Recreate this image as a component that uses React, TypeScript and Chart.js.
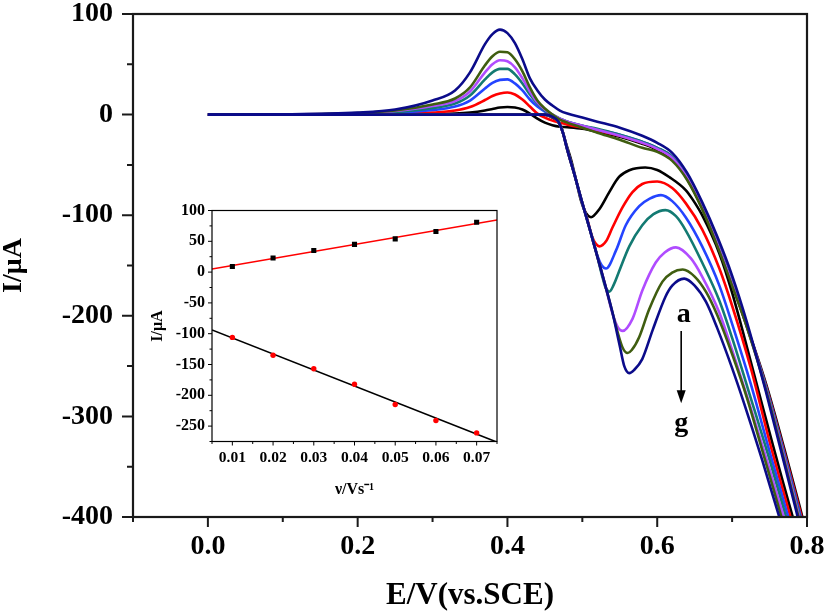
import React, { useEffect, useRef } from 'react';
import { Chart, registerables } from 'chart.js';

Chart.register(...registerables);

// ---------------- main chart data (E in V, I in µA) ----------------
const SERIES_NAMES = ['a', 'b', 'c', 'd', 'e', 'f', 'g'];
const SERIES_COLORS = ['#000000', '#ff0000', '#2444ff', '#137a72', '#b04cff', '#3f5d10', '#0b0b8a'];

// forward sweep potentials (shared)
const E_FWD = [0.00, 0.10, 0.20, 0.25, 0.30, 0.33, 0.35, 0.37, 0.38, 0.39, 0.40, 0.41, 0.42, 0.43, 0.44, 0.45, 0.46, 0.47, 0.48, 0.50, 0.52, 0.55, 0.58, 0.60, 0.62, 0.64, 0.66, 0.68, 0.70, 0.72, 0.745, 0.77, 0.79, 0.81];

const I_FWD_A = [0, 0, 0, 0, 0.5, 1, 2, 4, 5.5, 7, 7.5, 7, 5, 1, -4, -8, -10.5, -12, -12.5, -14, -17, -22, -29, -35, -44, -64, -93, -129, -169, -211, -267, -333, -389, -447];
const I_FWD_B = [0, 0, 0.3, 0.8, 2, 4, 7.5, 14.5, 18.5, 21, 22, 20, 15, 8, 1, -3, -6, -8, -10, -13, -16, -21, -28, -34, -43, -63, -92, -128, -168, -211, -269, -336, -392, -450];
const I_FWD_C = [0, 0.1, 0.7, 1.8, 4.5, 8, 14, 26, 31.5, 34.5, 35, 31, 24, 15, 8, 3, -1, -4, -7, -11, -15, -20, -27, -33, -42, -62, -91, -127, -167, -211, -270, -338, -395, -453];
const I_FWD_D = [0, 0.1, 1, 2.5, 6.5, 11, 19, 35, 42, 45.5, 45.5, 40, 31, 20, 11, 4, 0, -4, -7, -11, -14, -20, -27, -33, -42, -62, -91, -127, -167, -211, -271, -340, -398, -456];
const I_FWD_E = [0, 0.2, 1.2, 3.5, 8.5, 13.5, 23, 42, 50, 54, 53, 47, 36, 23, 12, 5, 0, -4, -7, -11, -15, -21, -28, -34, -43, -63, -92, -128, -168, -211, -272, -342, -401, -459];
const I_FWD_F = [0, 0.2, 1.5, 4, 10, 16, 27, 49, 58, 62.5, 62, 55, 43, 27, 14, 6, 0, -5, -8, -13, -18, -25, -33, -37, -46, -65, -94, -130, -170, -212, -273, -345, -404, -462];
const I_FWD_G = [0, 0.3, 2, 5, 14, 24, 42, 70, 80, 84.5, 81, 71, 55, 36, 24, 15, 9, 4, 1, -3, -7, -13, -21, -28, -38, -58, -87, -121, -160, -207, -275, -348, -407, -466];

// reverse sweep (potential decreasing)
const E_REV_A = [0.80, 0.79, 0.781, 0.755, 0.73, 0.70, 0.683, 0.66, 0.647, 0.638, 0.616, 0.60, 0.584, 0.5627, 0.549, 0.536, 0.5227, 0.5116, 0.505, 0.498, 0.4916, 0.485, 0.478, 0.471, 0.46, 0.45, 0.40, 0.30, 0.20, 0.0];
const I_REV_A = [-448, -422, -400, -330, -260, -177, -138, -100, -84, -75, -62, -55, -52.6, -55.3, -62, -77, -94, -102, -98, -85, -65, -45, -28, -11, -3, 0, 0, 0, 0, 0];

const E_REV_B = [0.80, 0.79, 0.778, 0.75, 0.725, 0.70, 0.683, 0.66, 0.638, 0.62, 0.60, 0.58, 0.567, 0.5538, 0.5404, 0.5316, 0.5227, 0.5175, 0.513, 0.507, 0.50, 0.49, 0.48, 0.474, 0.468, 0.46, 0.45, 0.40, 0.30, 0.20, 0.0];
const I_REV_B = [-460, -432, -400, -325, -252, -190, -153, -114, -88, -73, -66.5, -69, -77, -92, -112, -126, -131, -128, -121, -105, -88, -61, -35, -18, -7, -2, 0, 0, 0, 0, 0];

const E_REV_C = [0.80, 0.787, 0.775, 0.75, 0.725, 0.70, 0.683, 0.66, 0.638, 0.62, 0.605, 0.59, 0.576, 0.558, 0.545, 0.5316, 0.526, 0.52, 0.51, 0.50, 0.49, 0.48, 0.474, 0.468, 0.46, 0.45, 0.40, 0.30, 0.20, 0.0];
const I_REV_C = [-465, -432, -400, -335, -268, -208, -170, -131, -102, -86, -80, -83.5, -91, -110, -135, -153, -150, -140, -114, -88, -61, -35, -18, -7, -2, 0, 0, 0, 0, 0];

const E_REV_D = [0.80, 0.785, 0.772, 0.75, 0.725, 0.70, 0.683, 0.66, 0.638, 0.625, 0.611, 0.595, 0.58, 0.5627, 0.549, 0.542, 0.536, 0.531, 0.526, 0.52, 0.51, 0.50, 0.49, 0.48, 0.474, 0.468, 0.46, 0.45, 0.40, 0.30, 0.20, 0.0];
const I_REV_D = [-470, -432, -400, -343, -282, -222, -185, -147, -115, -101, -95, -99, -110, -131, -156, -169, -176, -172, -159, -141, -114, -88, -61, -35, -18, -7, -2, 0, 0, 0, 0, 0];

const E_REV_E = [0.80, 0.78, 0.769, 0.745, 0.72, 0.70, 0.683, 0.66, 0.645, 0.625, 0.61, 0.598, 0.58, 0.567, 0.5538, 0.548, 0.54, 0.53, 0.52, 0.51, 0.50, 0.49, 0.48, 0.474, 0.468, 0.46, 0.45, 0.40, 0.30, 0.20, 0.0];
const I_REV_E = [-475, -427, -400, -340, -280, -234, -197, -161, -143, -132, -137, -147, -175, -203, -215, -212, -197, -168, -141, -114, -88, -61, -35, -18, -7, -2, 0, 0, 0, 0, 0];

const E_REV_F = [0.80, 0.78, 0.766, 0.74, 0.72, 0.70, 0.68, 0.665, 0.65, 0.634, 0.62, 0.607, 0.589, 0.576, 0.566, 0.5604, 0.554, 0.547, 0.54, 0.53, 0.52, 0.51, 0.50, 0.49, 0.48, 0.474, 0.468, 0.46, 0.45, 0.40, 0.30, 0.20, 0.0];
const I_REV_F = [-485, -435, -400, -333, -282, -238, -199, -176, -161, -154, -157, -166, -194, -221, -234, -237, -232, -216, -196, -168, -141, -114, -88, -61, -35, -18, -7, -2, 0, 0, 0, 0, 0];

const E_REV_G = [0.80, 0.78, 0.763, 0.74, 0.716, 0.70, 0.68, 0.665, 0.65, 0.636, 0.62, 0.611, 0.594, 0.58, 0.569, 0.5627, 0.556, 0.55, 0.54, 0.53, 0.52, 0.51, 0.50, 0.49, 0.48, 0.474, 0.468, 0.46, 0.45, 0.40, 0.30, 0.20, 0.0];
const I_REV_G = [-490, -440, -400, -343, -287, -252, -212, -186, -170, -163, -170, -181, -214, -243, -254, -257, -250, -230, -196, -168, -141, -114, -88, -61, -35, -18, -7, -2, 0, 0, 0, 0, 0];

const I_FWD = [I_FWD_A, I_FWD_B, I_FWD_C, I_FWD_D, I_FWD_E, I_FWD_F, I_FWD_G];
const E_REV = [E_REV_A, E_REV_B, E_REV_C, E_REV_D, E_REV_E, E_REV_F, E_REV_G];
const I_REV = [I_REV_A, I_REV_B, I_REV_C, I_REV_D, I_REV_E, I_REV_F, I_REV_G];

// ---------------- inset data ----------------
const SCAN_RATE = [0.01, 0.02, 0.03, 0.04, 0.05, 0.06, 0.07];
const I_ANODIC = [9, 23, 35, 45, 54, 66, 81];
const I_CATHODIC = [-106, -135, -157, -182, -215, -241, -261];
const FIT_RATE = [0.005, 0.075];
const FIT_ANODIC = [5, 84.5];
const FIT_CATHODIC = [-94, -276];

// annotation (data coordinates)
const ANNOT_TOP = { text: 'a', x: 0.6355, y: -206 };
const ANNOT_BOTTOM = { text: 'g', x: 0.632, y: -315 };
const ANNOT_ARROW = { x: 0.632, from: -215, to: -287 };

const SERIF = "'Liberation Serif', 'Times New Roman', serif";

function zip(xs: number[], ys: number[]) {
  return xs.map((x, i) => ({ x, y: ys[i] }));
}

function framePlugin(opts: {
  lw: number; tickLw: number; color: string;
  xMajor: number; xMinor: number; yMajor: number; yMinor: number;
  isMajorX: (v: number) => boolean; isMajorY: (v: number) => boolean;
}) {
  return {
    id: 'frameTicks',
    afterDraw(chart: any) {
      const { ctx, chartArea: a, scales } = chart;
      const xs = scales.x;
      const ys = scales.y;
      ctx.save();
      ctx.strokeStyle = opts.color;
      ctx.lineWidth = opts.tickLw;
      ctx.beginPath();
      for (const t of xs.ticks) {
        const px = xs.getPixelForValue(t.value);
        const len = opts.isMajorX(t.value) ? opts.xMajor : opts.xMinor;
        ctx.moveTo(px, a.bottom);
        ctx.lineTo(px, a.bottom + len);
      }
      for (const t of ys.ticks) {
        const py = ys.getPixelForValue(t.value);
        const len = opts.isMajorY(t.value) ? opts.yMajor : opts.yMinor;
        ctx.moveTo(a.left, py);
        ctx.lineTo(a.left - len, py);
      }
      ctx.stroke();
      ctx.lineWidth = opts.lw;
      ctx.strokeRect(a.left, a.top, a.right - a.left, a.bottom - a.top);
      ctx.restore();
    },
  };
}

const annotPlugin = {
  id: 'annot',
  afterDatasetsDraw(chart: any) {
    const { ctx, scales } = chart;
    const xs = scales.x;
    const ys = scales.y;
    ctx.save();
    ctx.fillStyle = '#000';
    ctx.strokeStyle = '#000';
    ctx.font = `bold 28px ${SERIF}`;
    ctx.textAlign = 'center';
    ctx.textBaseline = 'alphabetic';
    ctx.fillText(ANNOT_TOP.text, xs.getPixelForValue(ANNOT_TOP.x), ys.getPixelForValue(ANNOT_TOP.y));
    ctx.fillText(ANNOT_BOTTOM.text, xs.getPixelForValue(ANNOT_BOTTOM.x), ys.getPixelForValue(ANNOT_BOTTOM.y));
    const ax = xs.getPixelForValue(ANNOT_ARROW.x);
    const y1 = ys.getPixelForValue(ANNOT_ARROW.from);
    const y2 = ys.getPixelForValue(ANNOT_ARROW.to);
    ctx.lineWidth = 1.6;
    ctx.beginPath();
    ctx.moveTo(ax, y1);
    ctx.lineTo(ax, y2 - 10);
    ctx.stroke();
    ctx.beginPath();
    ctx.moveTo(ax, y2);
    ctx.lineTo(ax - 4.5, y2 - 13);
    ctx.lineTo(ax + 4.5, y2 - 13);
    ctx.closePath();
    ctx.fill();
    ctx.restore();
  },
};

function curveDataset(label: string, color: string, data: { x: number; y: number }[], order: number) {
  return {
    label,
    data,
    showLine: true,
    borderColor: color,
    backgroundColor: color,
    borderWidth: 2.6,
    pointRadius: 0,
    pointHoverRadius: 0,
    cubicInterpolationMode: 'monotone',
    fill: false,
    order,
  };
}

function mainConfig(): any {
  const datasets: any[] = [];
  SERIES_NAMES.forEach((name, k) => {
    const order = SERIES_NAMES.length - 1 - k;
    datasets.push(curveDataset(name, SERIES_COLORS[k], zip(E_FWD, I_FWD[k]), order));
    datasets.push(curveDataset(name + ' (reverse)', SERIES_COLORS[k], zip(E_REV[k], I_REV[k]), order));
  });
  const tickFont = { family: SERIF, size: 28, weight: 'bold', lineHeight: 1 };
  return {
    type: 'scatter',
    data: { datasets },
    options: {
      animation: false,
      responsive: false,
      events: [],
      layout: { padding: { left: 0, top: 14, right: 20, bottom: 0 } },
      elements: { line: { capBezierPoints: false } },
      plugins: { legend: { display: false }, tooltip: { enabled: false } },
      scales: {
        x: {
          type: 'linear',
          min: -0.1,
          max: 0.8,
          afterFit: (s: any) => { s.height = 99; s.paddingLeft = 0; s.paddingRight = 0; },
          grid: { display: false, drawTicks: false },
          border: { display: false },
          ticks: {
            stepSize: 0.1,
            maxTicksLimit: 100,
            autoSkip: false,
            maxRotation: 0,
            minRotation: 0,
            padding: 16,
            color: '#000',
            font: tickFont,
            callback: (v: number) => (Math.round(v * 10) % 2 === 0 ? v.toFixed(1) : ''),
          },
          title: {
            display: true,
            text: 'E/V(vs.SCE)',
            color: '#000',
            font: { family: SERIF, size: 31, weight: 'bold', lineHeight: 1 },
            padding: { top: 0, bottom: 4.5 },
          },
        },
        y: {
          type: 'linear',
          min: -400,
          max: 100,
          afterFit: (s: any) => { s.width = 133; s.paddingTop = 0; s.paddingBottom = 0; },
          grid: { display: false, drawTicks: false },
          border: { display: false },
          ticks: {
            stepSize: 50,
            maxTicksLimit: 100,
            autoSkip: false,
            padding: 20,
            color: '#000',
            font: tickFont,
            callback: (v: number) => (Math.round(v) % 100 === 0 ? String(Math.round(v)) : ''),
          },
          title: {
            display: true,
            text: 'I/μA',
            color: '#000',
            font: { family: SERIF, size: 28, weight: 'bold', lineHeight: 1 },
            padding: { top: 0, bottom: 0 },
          },
        },
      },
    },
    plugins: [
      framePlugin({
        lw: 2.2, tickLw: 2, color: '#1a1a1a',
        xMajor: 10, xMinor: 5, yMajor: 11, yMinor: 6,
        isMajorX: (v) => Math.round(v * 10) % 2 === 0,
        isMajorY: (v) => Math.round(v) % 100 === 0,
      }),
      annotPlugin,
    ],
  };
}

function insetConfig(): any {
  const yFont = { family: SERIF, size: 16, weight: 'bold', lineHeight: 1 };
  const xFont = { family: SERIF, size: 15.5, weight: 'bold', lineHeight: 1 };
  return {
    type: 'scatter',
    data: {
      datasets: [
        {
          label: 'Ipa',
          data: zip(SCAN_RATE, I_ANODIC),
          pointStyle: 'rect',
          pointRadius: 3.6,
          backgroundColor: '#000',
          borderColor: '#000',
          borderWidth: 0,
          order: 0,
        },
        {
          label: 'Ipc',
          data: zip(SCAN_RATE, I_CATHODIC),
          pointStyle: 'circle',
          pointRadius: 2.7,
          backgroundColor: '#ff0000',
          borderColor: '#ff0000',
          borderWidth: 0,
          order: 0,
        },
        {
          label: 'fit a',
          data: zip(FIT_RATE, FIT_ANODIC),
          showLine: true,
          borderColor: '#ff0000',
          borderWidth: 1.6,
          pointRadius: 0,
          order: 1,
        },
        {
          label: 'fit c',
          data: zip(FIT_RATE, FIT_CATHODIC),
          showLine: true,
          borderColor: '#000000',
          borderWidth: 1.6,
          pointRadius: 0,
          order: 1,
        },
      ],
    },
    options: {
      animation: false,
      responsive: false,
      events: [],
      layout: { padding: { left: 0, top: 15.5, right: 13, bottom: 0 } },
      plugins: { legend: { display: false }, tooltip: { enabled: false } },
      scales: {
        x: {
          type: 'linear',
          min: 0.005,
          max: 0.075,
          afterFit: (s: any) => { s.height = 68.5; s.paddingLeft = 0; s.paddingRight = 0; },
          grid: { display: false, drawTicks: false },
          border: { display: false },
          ticks: {
            stepSize: 0.005,
            maxTicksLimit: 100,
            autoSkip: false,
            maxRotation: 0,
            minRotation: 0,
            padding: 8.5,
            color: '#000',
            font: xFont,
            callback: (v: number) => (Math.round(v * 1000) % 10 === 0 ? v.toFixed(2) : ''),
          },
          title: {
            display: true,
            text: 'ν/Vs⁻¹',
            color: '#000',
            font: { family: SERIF, size: 16, weight: 'bold', lineHeight: 1 },
            padding: { top: 0, bottom: 12 },
          },
        },
        y: {
          type: 'linear',
          min: -275,
          max: 100,
          afterFit: (s: any) => { s.width = 72; s.paddingTop = 0; s.paddingBottom = 0; },
          grid: { display: false, drawTicks: false },
          border: { display: false },
          ticks: {
            stepSize: 25,
            maxTicksLimit: 100,
            autoSkip: false,
            padding: 7,
            color: '#000',
            font: yFont,
            callback: (v: number) => (Math.round(v) % 50 === 0 ? String(Math.round(v)) : ''),
          },
          title: {
            display: true,
            text: 'I/μA',
            color: '#000',
            font: { family: SERIF, size: 16, weight: 'bold', lineHeight: 1 },
            padding: { top: 10, bottom: 0 },
          },
        },
      },
    },
    plugins: [
      framePlugin({
        lw: 1.2, tickLw: 1, color: '#000',
        xMajor: 4, xMinor: 2.5, yMajor: 4, yMinor: 2.5,
        isMajorX: (v) => Math.round(v * 1000) % 10 === 0,
        isMajorY: (v) => Math.round(v) % 50 === 0,
      }),
    ],
  };
}

export default function App() {
  const mainRef = useRef<HTMLCanvasElement>(null);
  const insetRef = useRef<HTMLCanvasElement>(null);

  useEffect(() => {
    const main = new Chart(mainRef.current as HTMLCanvasElement, mainConfig());
    const inset = new Chart(insetRef.current as HTMLCanvasElement, insetConfig());
    return () => {
      main.destroy();
      inset.destroy();
    };
  }, []);

  return (
    <div style={{ position: 'absolute', left: 0, top: 0, width: 827, height: 616, background: '#ffffff', overflow: 'hidden' }}>
      <canvas
        ref={mainRef}
        width={827}
        height={616}
        style={{ position: 'absolute', left: 0, top: 0, width: 827, height: 616 }}
      />
      <canvas
        ref={insetRef}
        width={370}
        height={315}
        style={{ position: 'absolute', left: 140, top: 195, width: 370, height: 315 }}
      />
    </div>
  );
}
